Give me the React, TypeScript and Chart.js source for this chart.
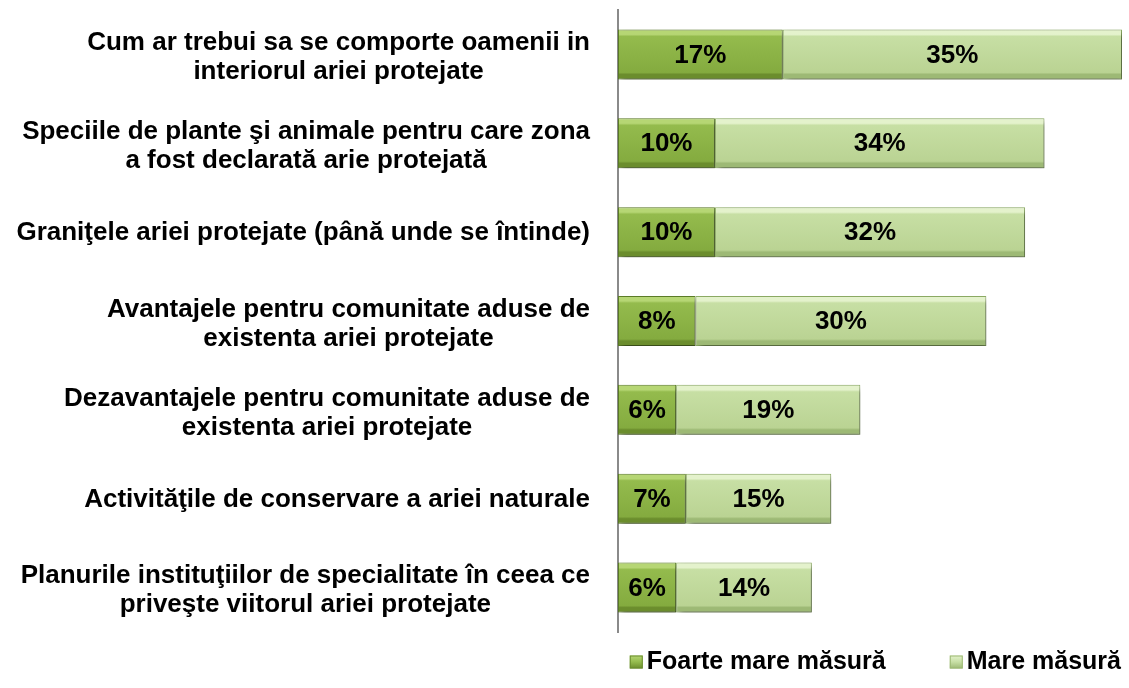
import React, { useEffect, useRef } from "react";
import { Chart, registerables } from "chart.js";

Chart.register(...registerables);

const categories: string[][] = [
  ["Cum ar trebui sa se comporte oamenii in", "interiorul ariei protejate"],
  ["Speciile de plante şi animale pentru care zona", "a fost declarată arie protejată"],
  ["Graniţele ariei protejate (până unde se întinde)"],
  ["Avantajele pentru comunitate aduse de", "existenta ariei protejate"],
  ["Dezavantajele pentru comunitate aduse de", "existenta ariei protejate"],
  ["Activităţile de conservare a ariei naturale"],
  ["Planurile instituţiilor de specialitate în ceea ce", "priveşte viitorul ariei protejate"],
];

const seriesNames = ["Foarte mare măsură", "Mare măsură"];
const foarteMare = [17, 10, 10, 8, 6, 7, 6];
const mare = [35, 34, 32, 30, 19, 15, 14];

const FONT = '"Liberation Sans", Arial, sans-serif';
const BAR_PCT = 0.563;

// top band, body top, body bottom, bottom band
const darkStops = ["#b6d674", "#94bb4d", "#84ab3f", "#6b8d2d"];
const lightStops = ["#e4f2cc", "#c7dfa4", "#bad393", "#9db975"];

function makeFill(stops: string[], flat: string) {
  return (ctx: any) => {
    const chart = ctx.chart;
    const area = chart.chartArea;
    const ys = chart.scales && chart.scales.y;
    if (!area || !ys || ctx.type !== "data") return flat;
    const step = (area.bottom - area.top) / categories.length;
    const half = (step * BAR_PCT) / 2;
    const yc = ys.getPixelForValue(ctx.dataIndex);
    const g = chart.ctx.createLinearGradient(0, yc - half, 0, yc + half);
    g.addColorStop(0, stops[0]);
    g.addColorStop(0.1, stops[0]);
    g.addColorStop(0.14, stops[1]);
    g.addColorStop(0.86, stops[2]);
    g.addColorStop(0.9, stops[3]);
    g.addColorStop(1, stops[3]);
    return g;
  };
}

const labelsPlugin = {
  id: "customLabels",
  beforeDatasetDraw(chart: any) {
    const c = chart.ctx;
    c.save();
    c.shadowColor = "rgba(0,0,0,0.45)";
    c.shadowBlur = 6;
    c.shadowOffsetX = 3;
    c.shadowOffsetY = 4;
  },
  afterDatasetDraw(chart: any) {
    chart.ctx.restore();
  },
  afterDraw(chart: any) {
    const c = chart.ctx;
    const ys = chart.scales.y;
    c.save();
    // category labels
    c.fillStyle = "#000";
    c.font = `bold 26px ${FONT}`;
    c.textAlign = "center";
    c.textBaseline = "middle";
    const rightEdge = 590;
    const lineH = 29;
    categories.forEach((lines, i) => {
      const maxW = Math.max(...lines.map((l) => c.measureText(l).width));
      const cx = rightEdge - maxW / 2;
      const yc = ys.getPixelForValue(i) + (lines.length > 1 ? 2 : 0);
      const start = yc - ((lines.length - 1) * lineH) / 2;
      lines.forEach((l, k) => c.fillText(l, cx, start + k * lineH + 1));
    });
    // data labels
    c.font = `bold 26px ${FONT}`;
    chart.data.datasets.forEach((ds: any, di: number) => {
      const meta = chart.getDatasetMeta(di);
      meta.data.forEach((el: any, i: number) => {
        const x = (el.x + el.base) / 2;
        c.fillText(ds.data[i] + "%", x, el.y + 1);
      });
    });
    // legend
    c.font = `bold 25px ${FONT}`;
    c.textAlign = "left";
    const legendY = 662;
    const box = 13;
    const gapBoxText = 4;
    const gapItems = 64;
    const widths = seriesNames.map((n) => c.measureText(n).width);
    const total =
      widths.reduce((a, b) => a + b, 0) + 2 * (box + gapBoxText) + gapItems;
    let x = 1121 - total;
    seriesNames.forEach((name, i) => {
      const stops = i === 0 ? darkStops : lightStops;
      const g = c.createLinearGradient(0, legendY - box / 2, 0, legendY + box / 2);
      g.addColorStop(0, stops[0]);
      g.addColorStop(0.5, stops[1]);
      g.addColorStop(1, stops[3]);
      c.fillStyle = g;
      c.fillRect(x, legendY - box / 2, box, box);
      c.strokeStyle = i === 0 ? "#6a8c2e" : "#9cb873";
      c.lineWidth = 1;
      c.strokeRect(x + 0.5, legendY - box / 2 + 0.5, box - 1, box - 1);
      c.fillStyle = "#000";
      c.fillText(name, x + box + gapBoxText, legendY);
      x += box + gapBoxText + widths[i] + gapItems;
    });
    c.restore();
  },
};

export default function App() {
  const ref = useRef<HTMLCanvasElement | null>(null);
  useEffect(() => {
    document.body.style.margin = "0";
    if (!ref.current) return;
    const chart = new Chart(ref.current, {
      type: "bar",
      data: {
        labels: categories.map((l) => l.join(" ")),
        datasets: [
          {
            label: seriesNames[0],
            data: foarteMare,
            backgroundColor: makeFill(darkStops, "#8db446"),
            borderColor: "#5e7f28",
            borderWidth: 1,
            borderSkipped: false,
            categoryPercentage: 1,
            barPercentage: BAR_PCT,
          },
          {
            label: seriesNames[1],
            data: mare,
            backgroundColor: makeFill(lightStops, "#c3db9f"),
            borderColor: "#8fae66",
            borderWidth: 1,
            borderSkipped: false,
            categoryPercentage: 1,
            barPercentage: BAR_PCT,
          },
        ],
      },
      options: {
        indexAxis: "y",
        responsive: false,
        animation: false,
        layout: { padding: { left: 618, right: 7, top: 10, bottom: 56 } },
        plugins: {
          legend: { display: false },
          tooltip: { enabled: false },
        },
        scales: {
          x: { stacked: true, display: false, min: 0, max: 52 },
          y: {
            stacked: true,
            grid: { display: false },
            ticks: { display: false },
            border: { display: true, color: "#8a8a8a", width: 2 },
            afterFit: (s: any) => {
              s.width = 0;
            },
          },
        },
      },
      plugins: [labelsPlugin],
    });
    return () => chart.destroy();
  }, []);
  return (
    <div style={{ width: 1129, height: 688, background: "#fff" }}>
      <canvas ref={ref} width={1129} height={688} />
    </div>
  );
}
